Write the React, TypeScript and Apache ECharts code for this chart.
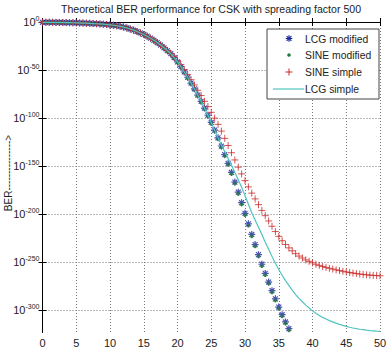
import React, { useEffect, useRef } from "react";
import * as echarts from "echarts";

// Eb/N0-like x values (step 0.5)
const xValues = [
  0, 0.5, 1, 1.5, 2, 2.5, 3, 3.5, 4, 4.5, 5, 5.5, 6, 6.5, 7, 7.5, 8, 8.5, 9, 9.5,
  10, 10.5, 11, 11.5, 12, 12.5, 13, 13.5, 14, 14.5, 15, 15.5, 16, 16.5, 17, 17.5,
  18, 18.5, 19, 19.5, 20, 20.5, 21, 21.5, 22, 22.5, 23, 23.5, 24, 24.5, 25, 25.5,
  26, 26.5, 27, 27.5, 28, 28.5, 29, 29.5, 30, 30.5, 31, 31.5, 32, 32.5, 33, 33.5,
  34, 34.5, 35, 35.5, 36, 36.5, 37, 37.5, 38, 38.5, 39, 39.5, 40, 40.5, 41, 41.5,
  42, 42.5, 43, 43.5, 44, 44.5, 45, 45.5, 46, 46.5, 47, 47.5, 48, 48.5, 49, 49.5, 50,
];

// log10(BER) for x = 0 .. 17.5 (all four curves overlap there)
const commonHead = [
  -0.3, -0.32, -0.35, -0.38, -0.42, -0.47, -0.53, -0.6, -0.68, -0.77, -0.87, -0.98,
  -1.1, -1.25, -1.4, -1.6, -1.8, -2.05, -2.3, -2.6, -3.0, -3.4, -3.9, -4.5, -5.3,
  -6.2, -7.3, -8.5, -9.9, -11.4, -13, -14.8, -16.8, -19, -21.4, -24,
];

// log10(BER) for x = 18 .. 36.5
const lcgModifiedTail = [
  -26.8, -29.8, -33, -37, -41.5, -46.5, -52, -57.5, -63.5, -69.5, -76, -82.5, -89.5,
  -97, -104.5, -112.5, -120.5, -129, -138, -147, -156.5, -166.5, -177, -188, -199,
  -210, -221, -231.5, -242, -252, -261.5, -270.5, -279.5, -288, -296.5, -304.5, -312,
  -319,
];

const sineModifiedTail = [
  -27.3, -30.3, -33.6, -37.7, -42.3, -47.4, -52.9, -58.5, -64.5, -70.6, -77.1, -83.7,
  -90.7, -98.2, -105.8, -113.8, -121.9, -130.5, -139.5, -148.6, -158.2, -168.3,
  -178.8, -189.8, -200.9, -212, -223, -233.5, -244, -254, -263.3, -272.3, -281.3,
  -289.7, -298.2, -306.2, -313.6, -320.6,
];

// log10(BER) for x = 18 .. 50
const sineSimpleTail = [
  -26.6, -29.5, -32.6, -36, -40, -44.5, -49.5, -54.5, -60, -65.5, -71, -76.5, -82.5,
  -88, -94, -100, -106.5, -113.5, -121, -128.5, -136, -143.5, -151, -158, -165,
  -171.5, -178, -184, -190, -196, -201.5, -207, -212.5, -218, -223, -227.5, -231.5,
  -235, -238, -241, -243.5, -245.5, -247.5, -249, -250.5, -252, -253.2, -254.3,
  -255.3, -256.2, -257, -257.8, -258.6, -259.3, -260, -260.6, -261.2, -261.7, -262.2,
  -262.6, -263, -263.3, -263.6, -263.8, -264,
];

const lcgSimpleTail = [
  -26.8, -29.8, -33, -37, -41.5, -46.5, -52, -57.5, -63.5, -69.5, -76, -82.5, -89.5,
  -97, -104.5, -112.5, -120.5, -128, -135, -142, -149, -156.5, -164, -172, -180.5,
  -189.5, -198.5, -206, -213.5, -221, -229, -236.5, -244, -251, -257.5, -263.5, -269,
  -274, -279, -283.5, -287.5, -291, -294.5, -297.5, -300.5, -303, -305.3, -307.3,
  -309, -310.6, -312, -313.3, -314.5, -315.6, -316.6, -317.5, -318.3, -319, -319.6,
  -320.1, -320.6, -321, -321.3, -321.6, -321.8,
];

const yTicks = [0, -50, -100, -150, -200, -250, -300];
const seriesNames = ["LCG modified", "SINE modified", "SINE simple", "LCG simple"];
const titleText = "Theoretical BER performance for CSK with spreading factor 500";
const yName = "BER--------------->";

const FONT = "'Liberation Sans', Arial, sans-serif";
const BLUE = "#1c2a9c";
const GREEN = "#237a3a";
const RED = "#cc2a2a";
const CYAN = "#4fc4c0";

const STAR = "path://M5,0L5,10M0,5L10,5M1.5,1.5L8.5,8.5M1.5,8.5L8.5,1.5";
const PLUS = "path://M5,0L5,10M0,5L10,5";

function pairs(head: number[], tail: number[]) {
  const ys = head.concat(tail);
  return ys.map((v, i) => [xValues[i], v]);
}

function extraGraphic() {
  const bx = 267, by = 29, bw = 112, bh = 70;
  const mx = 289;
  const rows = [38.5, 55, 72, 89];
  const textX = 305;
  const els: any[] = [
    { type: "rect", z: 100, shape: { x: bx, y: by, width: bw, height: bh }, style: { fill: "#fff", stroke: "#444", lineWidth: 1 } },
  ];
  const r = 3.3, d = 2.4;
  const sy = rows[0];
  [[0, -r, 0, r], [-r, 0, r, 0], [-d, -d, d, d], [-d, d, d, -d]].forEach((s) =>
    els.push({ type: "line", z: 101, shape: { x1: mx + s[0], y1: sy + s[1], x2: mx + s[2], y2: sy + s[3] }, style: { stroke: BLUE, lineWidth: 1.2 } })
  );
  els.push({ type: "circle", z: 101, shape: { cx: mx, cy: rows[1], r: 1.8 }, style: { fill: GREEN } });
  els.push({ type: "line", z: 101, shape: { x1: mx, y1: rows[2] - 3.5, x2: mx, y2: rows[2] + 3.5 }, style: { stroke: RED, lineWidth: 1 } });
  els.push({ type: "line", z: 101, shape: { x1: mx - 3.5, y1: rows[2], x2: mx + 3.5, y2: rows[2] }, style: { stroke: RED, lineWidth: 1 } });
  els.push({ type: "line", z: 101, shape: { x1: 273, y1: rows[3], x2: 304, y2: rows[3] }, style: { stroke: CYAN, lineWidth: 1.2 } });
  seriesNames.forEach((n, i) =>
    els.push({
      type: "text",
      z: 101,
      x: textX,
      y: rows[i],
      scaleX: 0.9,
      style: { text: n, fontFamily: FONT, fontSize: 11.5, fill: "#222", verticalAlign: "middle", align: "left" },
    })
  );
  // title
  els.push({
    type: "text",
    x: 211,
    y: 8.5,
    scaleX: 0.92,
    style: { text: titleText, fontFamily: FONT, fontSize: 11.5, fill: "#222", align: "center", verticalAlign: "middle" },
  });
  // y axis name
  els.push({
    type: "text",
    x: 8,
    y: 173,
    rotation: Math.PI / 2,
    style: { text: yName, fontFamily: FONT, fontSize: 10, fill: "#222", align: "center", verticalAlign: "middle" },
  });
  return els;
}

export default function App() {
  const ref = useRef<HTMLDivElement>(null);
  useEffect(() => {
    if (!ref.current) return;
    const chart = echarts.init(ref.current, undefined, { renderer: "svg" });
    const grid = "#777";
    chart.setOption({
      animation: false,
      backgroundColor: "#fff",
      textStyle: { fontFamily: FONT },
      grid: { left: 42.5, right: 9, top: 22, bottom: 19.5, outerBoundsMode: "none" },
      xAxis: [
        {
          type: "value",
          min: 0,
          max: 50,
          interval: 5,
          axisLine: { lineStyle: { color: "#000", width: 1 } },
          axisTick: { inside: true, length: 4, lineStyle: { color: "#000" } },
          axisLabel: { fontFamily: FONT, fontSize: 11, color: "#222", margin: 5 },
          splitLine: { show: true, lineStyle: { color: grid, type: [1, 2], width: 1 } },
        },
        {
          type: "value",
          position: "top",
          min: 0,
          max: 50,
          interval: 5,
          axisLine: { show: true, lineStyle: { color: "#000", width: 1 } },
          axisTick: { show: true, inside: true, length: 4, lineStyle: { color: "#000" } },
          axisLabel: { show: false },
          splitLine: { show: false },
        },
      ],
      yAxis: [
        {
          type: "value",
          min: -323,
          max: 0,
          axisLine: { show: true, lineStyle: { color: "#000", width: 1 } },
          axisTick: { show: true, inside: true, length: 4, customValues: yTicks, lineStyle: { color: "#000" } },
          axisLabel: {
            customValues: yTicks,
            margin: 3,
            formatter: (v: number) => `{b|10}{s|${v === 0 ? "0" : String(Math.round(v))}}`,
            rich: {
              b: { fontFamily: FONT, fontSize: 11, color: "#222" },
              s: { fontFamily: FONT, fontSize: 7, color: "#222", padding: [0, 0, 8, 0] },
            },
          },
          splitLine: { show: true, lineStyle: { color: grid, type: [1, 2], width: 1 } },
        },
        {
          type: "value",
          position: "right",
          min: -323,
          max: 0,
          axisLine: { show: true, lineStyle: { color: "#000", width: 1 } },
          axisTick: { show: true, inside: true, length: 4, customValues: yTicks, lineStyle: { color: "#000" } },
          axisLabel: { show: false, customValues: yTicks },
          splitLine: { show: false },
        },
      ],
      graphic: extraGraphic(),
      series: [
        {
          name: seriesNames[0],
          type: "scatter",
          data: pairs(commonHead, lcgModifiedTail),
          symbol: STAR,
          symbolSize: 7,
          itemStyle: { color: "none", borderColor: BLUE, borderWidth: 1.2 },
          clip: true,
        },
        {
          name: seriesNames[1],
          type: "scatter",
          data: pairs(commonHead, sineModifiedTail),
          symbol: "circle",
          symbolSize: 3.5,
          itemStyle: { color: GREEN },
          clip: true,
        },
        {
          name: seriesNames[2],
          type: "scatter",
          data: pairs(commonHead, sineSimpleTail),
          symbol: PLUS,
          symbolSize: 7,
          itemStyle: { color: "none", borderColor: RED, borderWidth: 1 },
          clip: true,
        },
        {
          name: seriesNames[3],
          type: "line",
          data: pairs(commonHead, lcgSimpleTail),
          showSymbol: false,
          symbol: "none",
          lineStyle: { color: CYAN, width: 1.2 },
          itemStyle: { color: CYAN },
          clip: true,
        },
      ],
    });
    return () => chart.dispose();
  }, []);
  return (
    <div
      ref={ref}
      style={{ position: "fixed", left: 0, top: 0, width: 389, height: 352, background: "#fff" }}
    />
  );
}
